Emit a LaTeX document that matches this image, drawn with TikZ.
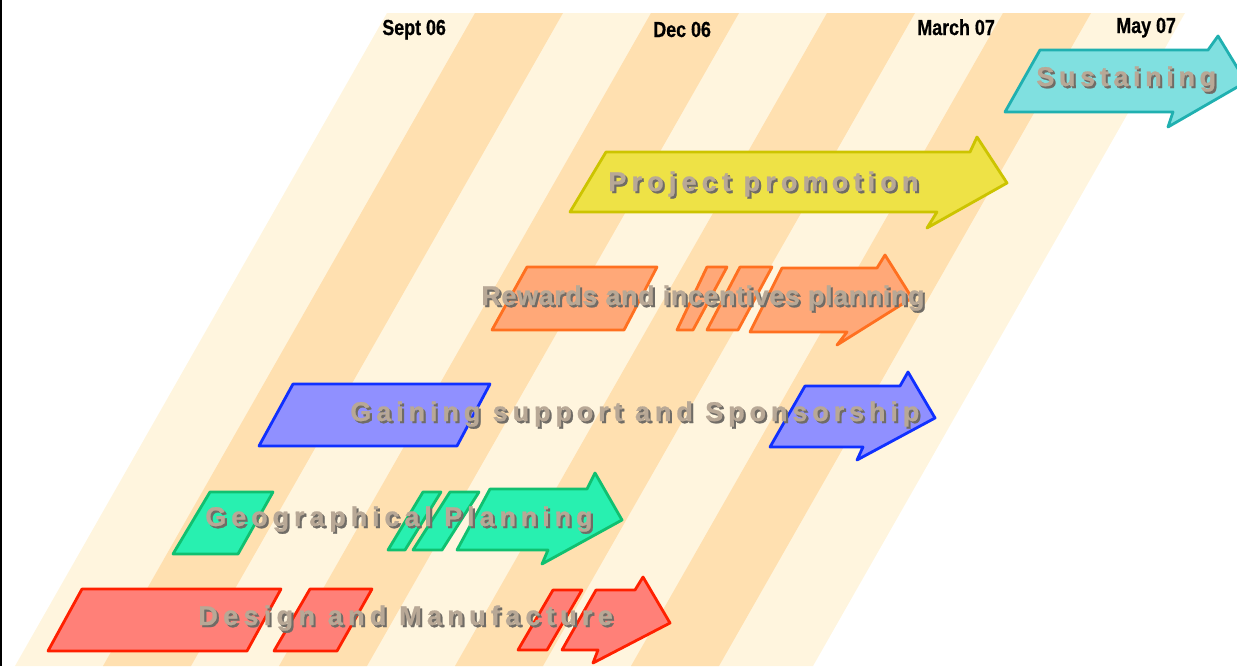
\documentclass[tikz,border=0pt]{standalone}
\usepackage{fontspec}
\setmainfont{Liberation Sans}
\newfontfamily\datefont{Liberation Sans Bold}[FakeStretch=0.82,FakeBold=0.6]
\newfontfamily\labfont{Liberation Sans Bold}[FakeBold=0.9]
\definecolor{stripelight}{RGB}{255,245,222}
\definecolor{stripedark}{RGB}{255,224,176}
\definecolor{labelfill}{RGB}{184,168,150}
\definecolor{labelshade}{RGB}{112,108,102}
\definecolor{susfill}{RGB}{128,224,224}\definecolor{susdraw}{RGB}{32,176,176}
\definecolor{profill}{RGB}{238,226,70}\definecolor{prodraw}{RGB}{204,196,0}
\definecolor{rewfill}{RGB}{255,168,120}\definecolor{rewdraw}{RGB}{255,112,32}
\definecolor{gaifill}{RGB}{144,144,255}\definecolor{gaidraw}{RGB}{16,48,255}
\definecolor{geofill}{RGB}{40,240,176}\definecolor{geodraw}{RGB}{16,192,112}
\definecolor{desfill}{RGB}{255,128,120}\definecolor{desdraw}{RGB}{255,32,0}
\newcommand\shadowed[1]{\makebox[0pt][l]{\hspace{1.2pt}\raisebox{-1.2pt}{\color{labelshade}#1}}{\color{labelfill}#1}}

\begin{document}
\begin{tikzpicture}[x=0.02cm,y=-0.02cm,
  bar/.style={line width=1.6pt,line join=round},
  date/.style={anchor=base west,inner sep=0pt,font={\datefont\fontsize{12.4}{13}\selectfont}},
  lab/.style={anchor=base west,inner sep=0pt,font={\labfont\fontsize{15.4}{16}\selectfont\addfontfeatures{LetterSpace=#1}}}]
  \useasboundingbox (0,0) rectangle (1237,666);
  \clip (0,0) rectangle (1237,666);
  % time stripes
  \fill[stripelight] (387,13) -- (1185,13) -- ++(-372,653) -- (15,666) -- cycle;
  \foreach \x in {475,651,827,1003}
    \fill[stripedark] (\x,13) -- ++(88,0) -- ++(-372,653) -- ++(-88,0) -- cycle;
  \fill[black] (0,0) rectangle (2,666);
  % dates
  \node[date] (sept) at (382,35) {Sept 06};
  \node[date] (dec) at (653,37) {Dec 06};
  \node[date] (march) at (917,35) {March 07};
  \node[date] (may) at (1116,33) {May 07};
  % sustaining
  \filldraw[bar,fill=susfill,draw=susdraw] (1005,112) -- (1040,50) -- (1208,50) -- (1218,36) -- (1246,82) -- (1168,127) -- (1173,112) -- cycle;
  % project promotion
  \filldraw[bar,fill=profill,draw=prodraw] (570,212) -- (606,152) -- (970,152) -- (977,137) -- (1007,183) -- (927,228) -- (937,212) -- cycle;
  % rewards
  \filldraw[bar,fill=rewfill,draw=rewdraw] (492,330) -- (527,267) -- (657,267) -- (624,330) -- cycle;
  \filldraw[bar,fill=rewfill,draw=rewdraw] (677,330) -- (707,267) -- (727,267) -- (693,330) -- cycle;
  \filldraw[bar,fill=rewfill,draw=rewdraw] (707,330) -- (740,267) -- (772,267) -- (738,330) -- cycle;
  \filldraw[bar,fill=rewfill,draw=rewdraw] (750,332) -- (782,268) -- (877,268) -- (885,255) -- (912,298) -- (837,345) -- (847,332) -- cycle;
  % gaining support
  \filldraw[bar,fill=gaifill,draw=gaidraw] (259,446) -- (293,384) -- (490,384) -- (457,446) -- cycle;
  \filldraw[bar,fill=gaifill,draw=gaidraw] (770,447) -- (805,386) -- (900,386) -- (908,372) -- (935,418) -- (857,460) -- (863,447) -- cycle;
  % geographical planning
  \filldraw[bar,fill=geofill,draw=geodraw] (173,554) -- (210,492) -- (273,492) -- (238,554) -- cycle;
  \filldraw[bar,fill=geofill,draw=geodraw] (388,550) -- (423,492) -- (441,492) -- (405,550) -- cycle;
  \filldraw[bar,fill=geofill,draw=geodraw] (413,550) -- (450,492) -- (479,492) -- (442,550) -- cycle;
  \filldraw[bar,fill=geofill,draw=geodraw] (457,550) -- (490,489) -- (587,489) -- (595,473) -- (622,520) -- (542,564) -- (548,550) -- cycle;
  % design and manufacture
  \filldraw[bar,fill=desfill,draw=desdraw] (48,651) -- (82,589) -- (281,589) -- (247,651) -- cycle;
  \filldraw[bar,fill=desfill,draw=desdraw] (274,651) -- (310,589) -- (372,589) -- (337,651) -- cycle;
  \filldraw[bar,fill=desfill,draw=desdraw] (518,650) -- (553,590) -- (582,590) -- (547,650) -- cycle;
  \filldraw[bar,fill=desfill,draw=desdraw] (562,650) -- (596,590) -- (635,590) -- (643,577) -- (670,623) -- (593,663) -- (598,650) -- cycle;
  % labels
  \node[lab=17] (sus) at (1036,86) {\shadowed{Sustaining}};
  \node[lab=19] (pro) at (608,191) {\shadowed{Project promotion}};
  \node[lab=2] (rew) at (481,305) {\shadowed{Rewards and incentives planning}};
  \node[lab=18] (gai) at (350,421) {\shadowed{Gaining support and Sponsorship}};
  \node[lab=18] (geo) at (205,526) {\shadowed{Geographical Planning}};
  \node[lab=19.5] (des) at (198,625) {\shadowed{Design and Manufacture}};
\end{tikzpicture}
\end{document}
